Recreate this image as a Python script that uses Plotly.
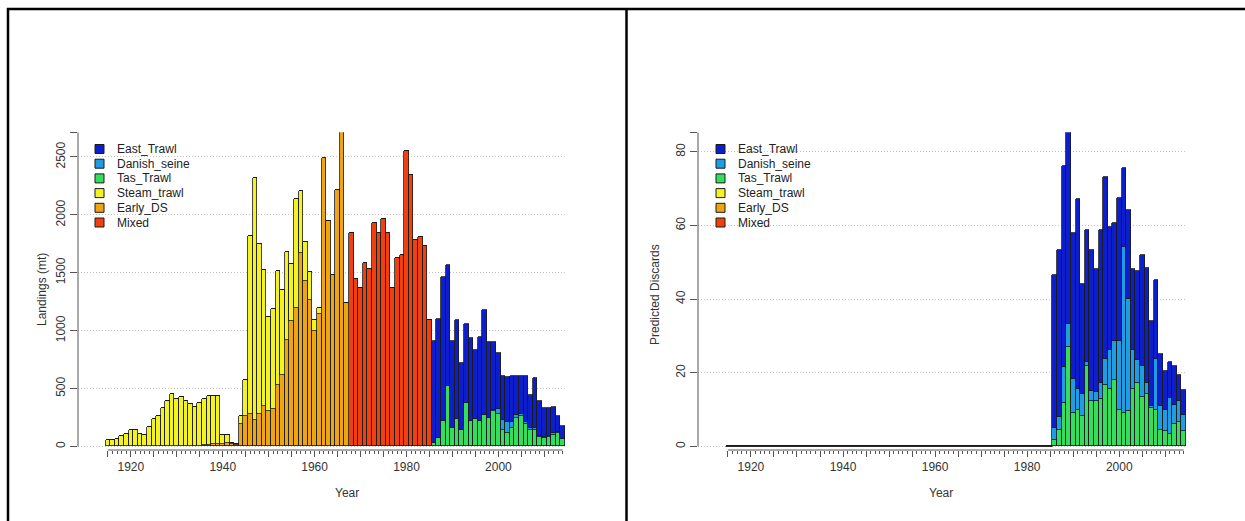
import plotly.graph_objects as go

W, H = 1245, 521

years = list(range(1915, 2015))

# ---- Landings (mt) by fleet, 1915-2014 ----
steam_trawl = [50, 50, 62, 91, 102, 142, 142, 105, 99, 165,
               235, 258, 327, 387, 450, 407, 425, 387, 367, 338,
               368, 397, 420, 415, 410, 80, 75, 10, 5,
               64, 310, 1537, 2084, 1468, 1174, 814, 863, 979, 734,
               754, 498, 941, 532, 337, 242, 100, 53] + [0] * 53
early_ds = [0] * 20 + [5, 10, 10, 15, 20, 20, 25, 15, 10,
                       194, 258, 281, 229, 281, 344, 301, 321, 531, 617,
                       920, 1078, 1193, 1668, 1423, 1259, 992, 1140,
                       2488, 1947, 1481, 2209, 2713, 1236] + [0] * 47
mixed = [0] * 53 + [1841, 1443, 1366, 1582, 1530, 1927, 1841, 1962, 1841,
                    1366, 1625, 1654, 2552, 2344, 1783, 1806, 1731, 1092] + [0] * 29
tas_trawl = [0] * 71 + [27, 71, 214, 517, 157, 235, 142, 373, 214, 235,
                        214, 272, 243, 300, 280, 140, 110, 160, 240, 260,
                        190, 140, 140, 80, 70, 80, 100, 110, 60]
danish_seine = [0] * 71 + [0] * 13 + [10, 40, 90, 100, 50, 30, 20, 20,
                                      15, 20, 10, 10, 10, 10, 10, 5]
landings_total_recent = [905, 1098, 1461, 1567, 905, 1087, 718, 1058, 934, 833,
                         943, 1179, 897, 897, 805, 603, 597, 603, 609, 610,
                         605, 445, 589, 387, 330, 330, 338, 258, 171]
east_trawl = [0] * 71 + [t - a - b for t, a, b in zip(landings_total_recent,
                                                        tas_trawl[71:], danish_seine[71:])]

# ---- Predicted discards by fleet, 1986-2014 (zero before) ----
disc_total_recent = [46.6, 53.3, 76.2, 85.3, 57.9, 67.1, 44.1, 58.6, 53.3, 48.2,
                     58.6, 73.1, 59.5, 60.7, 67.3, 75.5, 64.2, 48.2, 47.5, 52.0,
                     48.4, 33.9, 45.0, 24.9, 20.3, 22.8, 21.7, 19.4, 15.2]
disc_tas = [1.6, 4.5, 11.6, 26.8, 9.1, 9.8, 8.3, 21.7, 12.4, 12.4,
            12.9, 16.5, 15.4, 18.1, 9.8, 9.1, 9.5, 15.6, 17.2, 13.4,
            14.3, 10.4, 9.9, 4.3, 4.1, 3.2, 5.9, 6.5, 4.1]
disc_tas_plus_danish = [5.0, 7.9, 21.5, 33.3, 18.3, 15.6, 14.3, 22.8, 14.9, 14.6,
                        17.2, 23.7, 26.2, 28.5, 28.5, 54.2, 40.0, 26.0, 23.5, 21.7,
                        17.2, 11.0, 23.7, 11.0, 9.9, 13.1, 11.3, 12.2, 8.6]
disc_danish = [round(s - t, 1) for s, t in zip(disc_tas_plus_danish, disc_tas)]
disc_east_recent = [round(t - s, 1) for t, s in zip(disc_total_recent, disc_tas_plus_danish)]

zeros = [0] * 71
discards = {
    "Mixed": [0] * 100,
    "Early_DS": [0] * 100,
    "Steam_trawl": [0] * 100,
    "Tas_Trawl": zeros + disc_tas,
    "Danish_seine": zeros + disc_danish,
    "East_Trawl": zeros + disc_east_recent,
}
landings = {
    "Mixed": mixed,
    "Early_DS": early_ds,
    "Steam_trawl": steam_trawl,
    "Tas_Trawl": tas_trawl,
    "Danish_seine": danish_seine,
    "East_Trawl": east_trawl,
}

fleet_colors = {
    "East_Trawl": "#0D1ECC",
    "Danish_seine": "#1E9DE3",
    "Tas_Trawl": "#34DE5C",
    "Steam_trawl": "#F2F224",
    "Early_DS": "#EDA514",
    "Mixed": "#F0400F",
}
legend_order = ["East_Trawl", "Danish_seine", "Tas_Trawl", "Steam_trawl", "Early_DS", "Mixed"]
stack_order = list(reversed(legend_order))

FONT = "Liberation Sans, Arial, Helvetica, sans-serif"
TXT = "#333333"
AX = "#555555"

fig = go.Figure()

panels = [
    dict(data=landings, xa="x", ya="y", left=78, right=565,
         yticks=[0, 500, 1000, 1500, 2000, 2500], ytitle="Landings (mt)",
         title_x=33, title_y=290, year_x=333, leg_sq=99.5, leg_txt=115),
    dict(data=discards, xa="x2", ya="y2", left=698, right=1186,
         yticks=[0, 20, 40, 60, 80], ytitle="Predicted Discards",
         title_x=655, title_y=295, year_x=955, leg_sq=720.5, leg_txt=736),
]

zero_px, top_px, axis_px = 446.5, 132.3, 450.0
shapes, annotations = [], []

for i, p in enumerate(panels):
    totals = [sum(v) for v in zip(*p["data"].values())]
    ymax = max(totals)
    scale = (zero_px - top_px) / ymax
    below = 3.0 / scale
    for name in stack_order:
        fig.add_trace(go.Bar(
            x=years, y=p["data"][name], name=name, width=1.0,
            marker=dict(color=fleet_colors[name], line=dict(color="#1a1a1a", width=0.8)),
            xaxis=p["xa"], yaxis=p["ya"], showlegend=False,
        ))
    sfx = "" if i == 0 else "2"
    major = list(range(1915, 2015, 5))
    minor = [y for y in years if y not in major]
    fig.update_layout(**{
        "xaxis" + sfx: dict(
            domain=[p["left"] / W, p["right"] / W], range=[1908.5, 2014.5],
            anchor="free", position=1 - axis_px / H, showgrid=False, zeroline=False,
            showline=False, tickmode="array", tickvals=major,
            ticktext=[str(y) if y % 20 == 0 else "" for y in major],
            ticks="outside", ticklen=6, tickcolor=AX, tickwidth=1,
            minor=dict(tickmode="array", tickvals=minor, ticklen=3, tickcolor=AX,
                       tickwidth=1, showgrid=False),
            tickfont=dict(family=FONT, size=12, color=TXT), fixedrange=True,
        ),
        "yaxis" + sfx: dict(
            domain=[1 - (zero_px + 3.0) / H, 1 - top_px / H], range=[-below, ymax],
            anchor="x" + sfx, showline=False, zeroline=False,
            tickmode="array", tickvals=p["yticks"] + [ymax],
            ticktext=[str(v) for v in p["yticks"]] + [""],
            ticks="outside", ticklen=7, tickcolor=AX, tickwidth=1, tickangle=-90,
            showgrid=True, gridcolor="#c4c4c4", griddash="1px,2px", gridwidth=1,
            tickfont=dict(family=FONT, size=12, color=TXT), fixedrange=True,
        ),
    })
    # y axis line from 0 to the largest stacked total
    shapes.append(dict(type="line", xref=p["xa"] + " domain", yref=p["ya"],
                       x0=0, x1=0, y0=0, y1=ymax, line=dict(color=AX, width=1)))
    # x axis line spanning the first to the last year
    shapes.append(dict(type="line", xref=p["xa"], yref="paper",
                       x0=years[0], x1=years[-1], y0=1 - axis_px / H, y1=1 - axis_px / H,
                       line=dict(color=AX, width=1)))
    # years with empty stacks still show their bar outline along zero
    empty = [y for y, t in zip(years, totals) if t == 0]
    if empty:
        shapes.append(dict(type="line", xref=p["xa"], yref=p["ya"],
                           x0=empty[0] - 0.5, x1=empty[-1] + 0.5, y0=0, y1=0,
                           line=dict(color="#2a2a2a", width=1)))
    # legend drawn inside the plot area
    for k, name in enumerate(legend_order):
        cy = 149 + k * 14.7
        shapes.append(dict(type="rect", xref="paper", yref="paper",
                           x0=(p["leg_sq"] - 4.5) / W, x1=(p["leg_sq"] + 4.5) / W,
                           y0=1 - (cy + 4.5) / H, y1=1 - (cy - 4.5) / H,
                           fillcolor=fleet_colors[name], line=dict(color="#1a1a1a", width=1)))
        annotations.append(dict(x=p["leg_txt"] / W, y=1 - cy / H, xref="paper", yref="paper",
                                text=name, showarrow=False, xanchor="left", yanchor="middle",
                                font=dict(family=FONT, size=12, color="#222222")))
    annotations.append(dict(x=p["title_x"] / W, y=1 - p["title_y"] / H, xref="paper", yref="paper",
                            text=p["ytitle"], textangle=-90, showarrow=False,
                            font=dict(family=FONT, size=12, color=TXT)))
    annotations.append(dict(x=p["year_x"] / W, y=1 - 502 / H, xref="paper", yref="paper",
                            text="Year", showarrow=False,
                            font=dict(family=FONT, size=12, color=TXT)))

# panel frame lines
frame = dict(color="#000000", width=2.5)
shapes += [
    dict(type="line", xref="paper", yref="paper", x0=7 / W, x1=1, y0=1 - 9 / H, y1=1 - 9 / H, line=frame),
    dict(type="line", xref="paper", yref="paper", x0=8 / W, x1=8 / W, y0=0, y1=1 - 8 / H, line=frame),
    dict(type="line", xref="paper", yref="paper", x0=626.5 / W, x1=626.5 / W, y0=0, y1=1 - 8 / H, line=frame),
]

fig.update_layout(
    width=W, height=H, margin=dict(l=0, r=0, t=0, b=0),
    paper_bgcolor="white", plot_bgcolor="white",
    barmode="stack", bargap=0, showlegend=False,
    shapes=shapes, annotations=annotations,
)

fig.write_html("out.html")
